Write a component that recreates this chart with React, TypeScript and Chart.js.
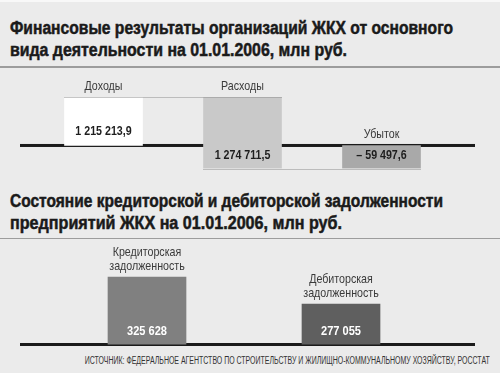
import React, { useEffect, useLayoutEffect, useRef } from 'react';
import { Chart, registerables, LinearScale } from 'chart.js';

Chart.register(...registerables);

// ---------- data ----------
const finCategories = ['Доходы', 'Расходы', 'Убыток'];
const finValues = [1215213.9, 1274711.5, -59497.6];
const debtCategories = [
  ['Кредиторская', 'задолженность'],
  ['Дебиторская', 'задолженность'],
];
const debtValues = [325628, 277055];

const title1 = ['Финансовые результаты организаций ЖКХ от основного', 'вида деятельности на 01.01.2006, млн руб.'];
const title2 = ['Состояние кредиторской и дебиторской задолженности', 'предприятий ЖКХ на 01.01.2006, млн руб.'];
const sourceText = 'ИСТОЧНИК: ФЕДЕРАЛЬНОЕ АГЕНТСТВО ПО СТРОИТЕЛЬСТВУ И ЖИЛИЩНО-КОММУНАЛЬНОМУ ХОЗЯЙСТВУ, РОССТАТ';

// ---------- styles ----------
const FONT = "'Liberation Sans', Arial, sans-serif";
const SX = 0.82; // horizontal condensing of canvas text
const finColors = ['#ffffff', '#c9c9c9', '#a9a9a9'];
const debtColors = ['#808080', '#5f5f5f'];
const BASE_LEFT = 20;
const BASE_RIGHT = 475;

function fmt(v: number): string {
  const neg = v < 0;
  const abs = Math.abs(v);
  const hasDec = Math.abs(abs - Math.round(abs)) > 1e-6;
  const [intPart, dec] = abs.toFixed(hasDec ? 1 : 0).split('.');
  const grouped = intPart.replace(/\B(?=(\d{3})+(?!\d))/g, ' ');
  return (neg ? '– ' : '') + grouped + (dec ? ',' + dec : '');
}

function drawText(ctx: CanvasRenderingContext2D, text: string, x: number, y: number, font: string, color: string) {
  ctx.save();
  ctx.font = font;
  ctx.fillStyle = color;
  ctx.textAlign = 'center';
  ctx.textBaseline = 'alphabetic';
  ctx.translate(x, y);
  ctx.scale(SX, 1);
  ctx.fillText(text, 0, 0);
  ctx.restore();
}

// scale that gives the positive and negative parts of the axis their own share of the height
class SplitScale extends LinearScale {
  static id = 'split';
  _zero() {
    const share = (this.options as any).positiveShare ?? 0.5;
    return this.top + (this.bottom - this.top) * share;
  }
  getPixelForValue(value: number) {
    const zero = this._zero();
    if (value >= 0) return zero - (value / this.max) * (zero - this.top);
    return zero + (value / this.min) * (this.bottom - zero);
  }
  getValueForPixel(pixel: number) {
    const zero = this._zero();
    if (pixel <= zero) return ((zero - pixel) / (zero - this.top)) * this.max;
    return ((pixel - zero) / (this.bottom - zero)) * this.min;
  }
}
Chart.register(SplitScale as any);

function FinChart() {
  const ref = useRef<HTMLCanvasElement>(null);
  useEffect(() => {
    const income = finValues[0];
    const expense = finValues[1];
    const loss = finValues[2];
    const ranges: [number, number][] = [
      [0, income],
      [income - expense, income],
      [loss, 0],
    ];
    const plugin = {
      id: 'finDecor',
      beforeDatasetsDraw(chart: any) {
        const ctx = chart.ctx;
        const y = chart.scales.y.getPixelForValue(0);
        ctx.save();
        ctx.fillStyle = '#1b1b1b';
        ctx.fillRect(BASE_LEFT, y - 1.5, BASE_RIGHT - BASE_LEFT, 3);
        ctx.restore();
      },
      afterDatasetsDraw(chart: any) {
        const ctx = chart.ctx;
        const meta = chart.getDatasetMeta(0);
        const ys = chart.scales.y;
        ctx.save();
        ctx.strokeStyle = '#8c8c8c';
        ctx.lineWidth = 1;
        ctx.setLineDash([1, 1]);
        for (let i = 0; i < ranges.length - 1; i++) {
          const a = ranges[i];
          const b = ranges[i + 1];
          for (const va of a) {
            for (const vb of b) {
              if (Math.abs(va - vb) < 1 && Math.abs(va) > 1) {
                const y = Math.round(ys.getPixelForValue(va)) + 0.5;
                const ea = meta.data[i];
                const eb = meta.data[i + 1];
                ctx.beginPath();
                ctx.moveTo(ea.x - ea.width / 2, y);
                ctx.lineTo(eb.x + eb.width / 2, y);
                ctx.stroke();
              }
            }
          }
        }
        ctx.restore();
        meta.data.forEach((el: any, i: number) => {
          const top = Math.min(el.y, el.base);
          const bottom = Math.max(el.y, el.base);
          drawText(ctx, finCategories[i], el.x, top - 7.5, `13px ${FONT}`, '#3a3a3a');
          drawText(ctx, fmt(finValues[i]), el.x, bottom - 10, `bold 13px ${FONT}`, '#1e1e1e');
        });
      },
    };
    const chart = new Chart(ref.current!, {
      type: 'bar',
      data: {
        labels: finCategories,
        datasets: [
          {
            data: ranges as any,
            backgroundColor: finColors,
            borderWidth: 0,
            barThickness: 78,
          },
        ],
      },
      options: {
        animation: false,
        responsive: false,
        events: [],
        layout: { padding: { left: 34, right: 49, top: 30, bottom: 16.5 } },
        plugins: { legend: { display: false }, tooltip: { enabled: false } },
        scales: {
          x: { display: false, grid: { display: false } },
          y: {
            type: 'split' as any,
            display: false,
            bounds: 'data',
            min: finValues[2],
            max: finValues[0],
            positiveShare: 0.678,
          } as any,
        },
      },
      plugins: [plugin],
    });
    return () => chart.destroy();
  }, []);
  return <canvas ref={ref} width={500} height={118} style={{ position: 'absolute', left: 0, top: 67, width: 500, height: 118 }} />;
}

function DebtChart() {
  const ref = useRef<HTMLCanvasElement>(null);
  useEffect(() => {
    const plugin = {
      id: 'debtDecor',
      beforeDatasetsDraw(chart: any) {
        const ctx = chart.ctx;
        const y = chart.chartArea.bottom;
        ctx.save();
        ctx.fillStyle = '#1b1b1b';
        ctx.fillRect(BASE_LEFT, y - 1.5, BASE_RIGHT - BASE_LEFT, 3);
        ctx.restore();
      },
      afterDatasetsDraw(chart: any) {
        const ctx = chart.ctx;
        const meta = chart.getDatasetMeta(0);
        const area = chart.chartArea;
        meta.data.forEach((el: any, i: number) => {
          const top = Math.max(Math.min(el.y, el.base), area.top);
          const bottom = Math.min(Math.max(el.y, el.base), area.bottom);
          const lines = debtCategories[i];
          lines.forEach((line, j) => {
            drawText(ctx, line, el.x, top - 7 - (lines.length - 1 - j) * 14, `13px ${FONT}`, '#3a3a3a');
          });
          drawText(ctx, fmt(debtValues[i]), el.x, bottom - 10, `bold 13.5px ${FONT}`, '#ffffff');
        });
      },
    };
    const chart = new Chart(ref.current!, {
      type: 'bar',
      data: {
        labels: debtCategories.map((l) => l.join(' ')),
        datasets: [
          {
            data: debtValues,
            backgroundColor: debtColors,
            borderWidth: 0,
            barThickness: 78,
          },
        ],
      },
      options: {
        animation: false,
        responsive: false,
        events: [],
        layout: { padding: { left: 50, right: 62, top: 25.5, bottom: 5.5 } },
        plugins: { legend: { display: false }, tooltip: { enabled: false } },
        scales: {
          x: { display: false, grid: { display: false } },
          y: { display: false, bounds: 'data', min: 204000, max: 350000 },
        },
      },
      plugins: [plugin],
    });
    return () => chart.destroy();
  }, []);
  return <canvas ref={ref} width={500} height={112} style={{ position: 'absolute', left: 0, top: 238, width: 500, height: 112 }} />;
}

function FitText({
  text,
  left,
  right,
  top,
  width,
  style,
}: {
  text: string;
  left?: number;
  right?: number;
  top: number;
  width: number;
  style: React.CSSProperties;
}) {
  const ref = useRef<HTMLSpanElement>(null);
  useLayoutEffect(() => {
    const el = ref.current!;
    el.style.transform = 'none';
    const w = el.getBoundingClientRect().width;
    if (w > 0) el.style.transform = `scaleX(${width / w})`;
  }, [text, width]);
  return (
    <span
      ref={ref}
      style={{
        position: 'absolute',
        left,
        right,
        top,
        whiteSpace: 'nowrap',
        transformOrigin: right !== undefined ? 'right top' : 'left top',
        display: 'inline-block',
        ...style,
      }}
    >
      {text}
    </span>
  );
}

export default function App() {
  const titleStyle: React.CSSProperties = {
    fontSize: 18,
    fontWeight: 'bold',
    lineHeight: '22px',
    color: '#1a1a1a',
    WebkitTextStroke: '0.5px #1a1a1a',
  };
  return (
    <div
      style={{
        position: 'fixed',
        left: 0,
        top: 0,
        width: 500,
        height: 373,
        background: '#ebebeb',
        overflow: 'hidden',
        fontFamily: FONT,
      }}
    >
      <div style={{ position: 'absolute', left: 0, top: 0, width: 500, height: 2, background: '#f8f8f8' }} />
      <FitText text={title1[0]} left={10} top={17} width={443} style={titleStyle} />
      <FitText text={title1[1]} left={10} top={39} width={337} style={titleStyle} />
      <div style={{ position: 'absolute', left: 0, top: 66, width: 500, height: 1.5, background: '#9c9c9c' }} />
      <FinChart />
      <FitText text={title2[0]} left={10} top={190} width={433} style={titleStyle} />
      <FitText text={title2[1]} left={10} top={212} width={332} style={titleStyle} />
      <div style={{ position: 'absolute', left: 0, top: 237.5, width: 500, height: 1.5, background: '#9c9c9c' }} />
      <DebtChart />
      <FitText
        text={sourceText}
        right={10}
        top={355}
        width={405}
        style={{ fontSize: 10, lineHeight: '12px', color: '#333333' }}
      />
    </div>
  );
}
